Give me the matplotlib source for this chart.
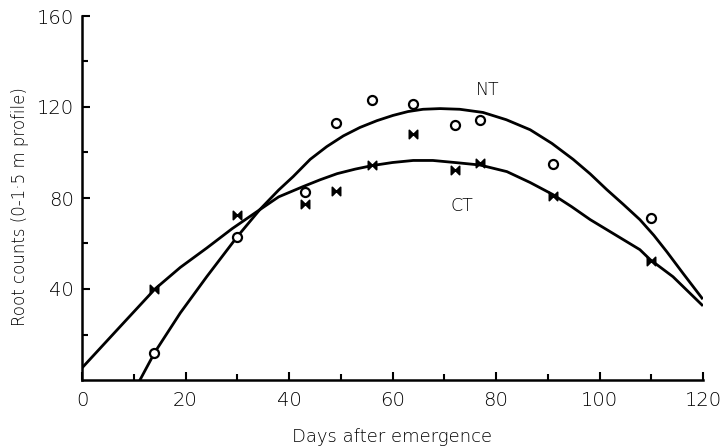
import matplotlib
matplotlib.use("Agg")
import matplotlib.pyplot as plt
from matplotlib.path import Path
import numpy as np

# Observed data
nt_days = [14, 30, 43, 49, 56, 64, 72, 77, 91, 110]
nt_counts = [12, 63, 82.5, 113, 123, 121.5, 112, 114.5, 95, 71]
ct_days = [14, 30, 43, 49, 56, 64, 72, 77, 91, 110]
ct_counts = [40, 72.7, 77.5, 83, 94.5, 108, 92.5, 95.6, 81, 52.4]

# Fitted curves
nt_fit_x = [11.2, 14.1, 19, 24.1, 30, 34.4, 38, 40.8, 44.1, 47.3, 50.5, 53.7,
            57, 60.1, 63, 65.9, 69.2, 73, 77.5, 82, 86.6, 90.8, 94.9, 98.2,
            101.4, 104.6, 107.8, 110.5, 113, 116.1, 119.8]
nt_fit_y = [0, 12.3, 29.5, 45.4, 63, 75, 83.5, 89.4, 97, 102.6, 107.3, 111,
            114, 116.3, 118, 119, 119.3, 119, 117.6, 114.4, 110, 104, 97, 90.6,
            83.7, 77.2, 70.5, 63.6, 56.4, 47, 36]
ct_fit_x = [0, 7.3, 14.1, 19, 24.1, 29, 33.8, 38, 42.7, 46, 49.3, 52.8, 56.2,
            60, 64, 67.8, 72.5, 76.9, 82.1, 86.6, 91, 94.6, 98.2, 103, 107.8,
            109.8, 114.2, 119.8]
ct_fit_y = [5.3, 23.3, 40, 49.5, 58, 66.5, 74, 80.5, 85, 88, 90.7, 92.7, 94.3,
            95.6, 96.5, 96.5, 95.5, 94.5, 91.6, 86.8, 81.5, 76.2, 70.5, 63.9,
            57.3, 52.9, 45.4, 33]

xticks = [0, 20, 40, 60, 80, 100, 120]
yticks = [40, 80, 120, 160]

fig = plt.figure(figsize=(7.22, 4.48), dpi=100)
ax = fig.add_axes([82/722, 1-380/448, (703-82)/722, (380-16)/448])

ax.plot(nt_fit_x, nt_fit_y, color="black", lw=2.0, solid_joinstyle="round")
ax.plot(ct_fit_x, ct_fit_y, color="black", lw=2.0, solid_joinstyle="round")

ax.plot(nt_days, nt_counts, linestyle="none", marker="o", markersize=6.5,
        markerfacecolor="white", markeredgecolor="black", markeredgewidth=1.6)

bowtie = Path([(-1, -1), (-1, 1), (1, -1), (1, 1), (-1, -1)],
              [Path.MOVETO, Path.LINETO, Path.LINETO, Path.LINETO, Path.CLOSEPOLY])
ax.plot(ct_days, ct_counts, linestyle="none", marker=bowtie, markersize=6,
        markerfacecolor="black", markeredgecolor="black", markeredgewidth=1.2)

ax.text(78.3, 127.5, "NT", ha="center", va="center", fontsize=12.5,
        family="DejaVu Sans", fontweight="light")
ax.text(73.4, 76.6, "CT", ha="center", va="center", fontsize=12.5,
        family="DejaVu Sans", fontweight="light")

ax.set_xlim(0, 120)
ax.set_ylim(0, 160)
ax.spines["top"].set_visible(False)
ax.spines["right"].set_visible(False)
ax.spines["left"].set_linewidth(1.8)
ax.spines["bottom"].set_linewidth(1.8)

ax.set_xticks(xticks)
ax.set_xticklabels([str(v) for v in xticks])
ax.set_xticks(np.arange(10, 120, 20), minor=True)
ax.set_yticks(yticks)
ax.set_yticklabels([str(v) for v in yticks])
ax.set_yticks(np.arange(20, 160, 40), minor=True)
ax.tick_params(axis="both", which="major", direction="in", length=6, width=1.5,
               labelsize=14, pad=8)
ax.tick_params(axis="both", which="minor", direction="in", length=4, width=1.5)
ax.tick_params(axis="y", which="major", pad=6)
for lab in ax.get_xticklabels() + ax.get_yticklabels():
    lab.set_fontweight("light")

ax.set_xlabel("Days after emergence", fontsize=13, fontweight="light")
ax.xaxis.set_label_coords(0.5, -(437 - 380) / 364, transform=ax.transAxes)
ax.xaxis.label.set_va("center")
ax.set_ylabel("Root counts (0-1\u00b75 m profile)", fontsize=12, fontweight="light")
ax.yaxis.set_label_coords((20 - 82) / 621, (380 - 207) / 364, transform=ax.transAxes)
ax.yaxis.label.set_va("center")

fig.savefig("out.png", dpi=100)
